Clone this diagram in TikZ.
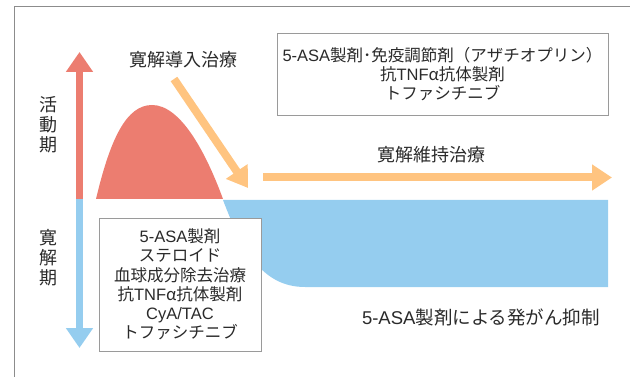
\documentclass[tikz,border=0pt]{standalone}
\usepackage{fontspec}
\setmainfont{Noto Sans CJK JP}
\newfontfamily\latf{Liberation Sans}
\usetikzlibrary{arrows.meta}
\definecolor{redc}{HTML}{EC7D70}
\definecolor{bluec}{HTML}{95CDEF}
\definecolor{orangec}{HTML}{FFC480}
\definecolor{framec}{HTML}{8C8C8C}
\definecolor{boxc}{HTML}{9A9A9A}
\definecolor{txt}{HTML}{2A2A2A}
\tikzset{
  lbl/.style={text=txt, inner sep=0pt, font=\fontsize{18}{20}\selectfont},
  boxtext/.style={text=txt, inner sep=0pt, align=center, font=\fontsize{16.5}{19.2}\selectfont},
  vlbl/.style={text=txt, inner sep=0pt, align=center, font=\fontsize{18}{20}\selectfont},
  infobox/.style={draw=boxc, line width=0.9pt, fill=white},
  fatred/.style={draw=redc, line width=7pt, -{Triangle[width=26pt,length=20pt]}},
  fatblue/.style={draw=bluec, line width=7pt, -{Triangle[width=26pt,length=20pt]}},
  fatorange/.style={draw=orangec, line width=8pt, -{Triangle[width=25pt,length=20pt]}},
}
\begin{document}
\begin{tikzpicture}[x=1pt,y=-1pt]
\useasboundingbox (0,0) rectangle (630,377);
% frame
\draw[framec, line width=1pt] (630,7) -- (14,7) -- (14,377);

% blue remission area
\fill[bluec] (223,200) .. controls (242,250) and (262,287) .. (305,287) -- (608,287) -- (608,200) -- cycle;
% red activity hump
\fill[redc] (96,199) .. controls (110,140) and (126,105) .. (152,105) .. controls (180,105) and (205,150) .. (223,199) -- cycle;

% vertical axis arrows
\coordinate (axmid) at (79.5,199);
\coordinate (axtop) at (79.5,52);
\coordinate (axbot) at (79.5,348);
\draw[fatred] (axmid) -- (axtop);
\draw[fatblue] (axmid) -- (axbot);

% labels on axis
\node[vlbl] (active) at (48,125) {活\\動\\期};
\node[vlbl] (remis) at (48,258) {寛\\解\\期};

% induction
\node[lbl] (induct) at (183,60) {寛解導入治療};
\coordinate (dstart) at (174,79);
\coordinate (dend) at (248,188);
\draw[fatorange] (dstart) -- (dend);

% maintenance
\node[lbl] (maint) at (431,155) {寛解維持治療};
\coordinate (hstart) at (263,177.5);
\coordinate (hend) at (612,177.5);
\draw[fatorange] (hstart) -- (hend);

% boxes
\node[infobox, minimum width=331pt, minimum height=82pt, inner sep=0pt] (topbox) at (442.5,74) {};
\node[boxtext] (toptext) at (topbox.center) {{\latf 5-ASA}製剤･免疫調節剤（アザチオプリン）\\抗{\latf TNF}\textit{α}抗体製剤\\トファシチニブ};

\node[infobox, minimum width=162pt, minimum height=133pt, inner sep=0pt] (botbox) at (180,284.5) {};
\node[boxtext] (bottext) at (botbox.center) {{\latf 5-ASA}製剤\\ステロイド\\血球成分除去治療\\抗{\latf TNF}\textit{α}抗体製剤\\{\latf CyA/TAC}\\トファシチニブ};

% cancer suppression
\node[lbl, font=\fontsize{18.5}{20}\selectfont] (cancer) at (481,317) {{\latf 5-ASA}製剤による発がん抑制};
\end{tikzpicture}
\end{document}
